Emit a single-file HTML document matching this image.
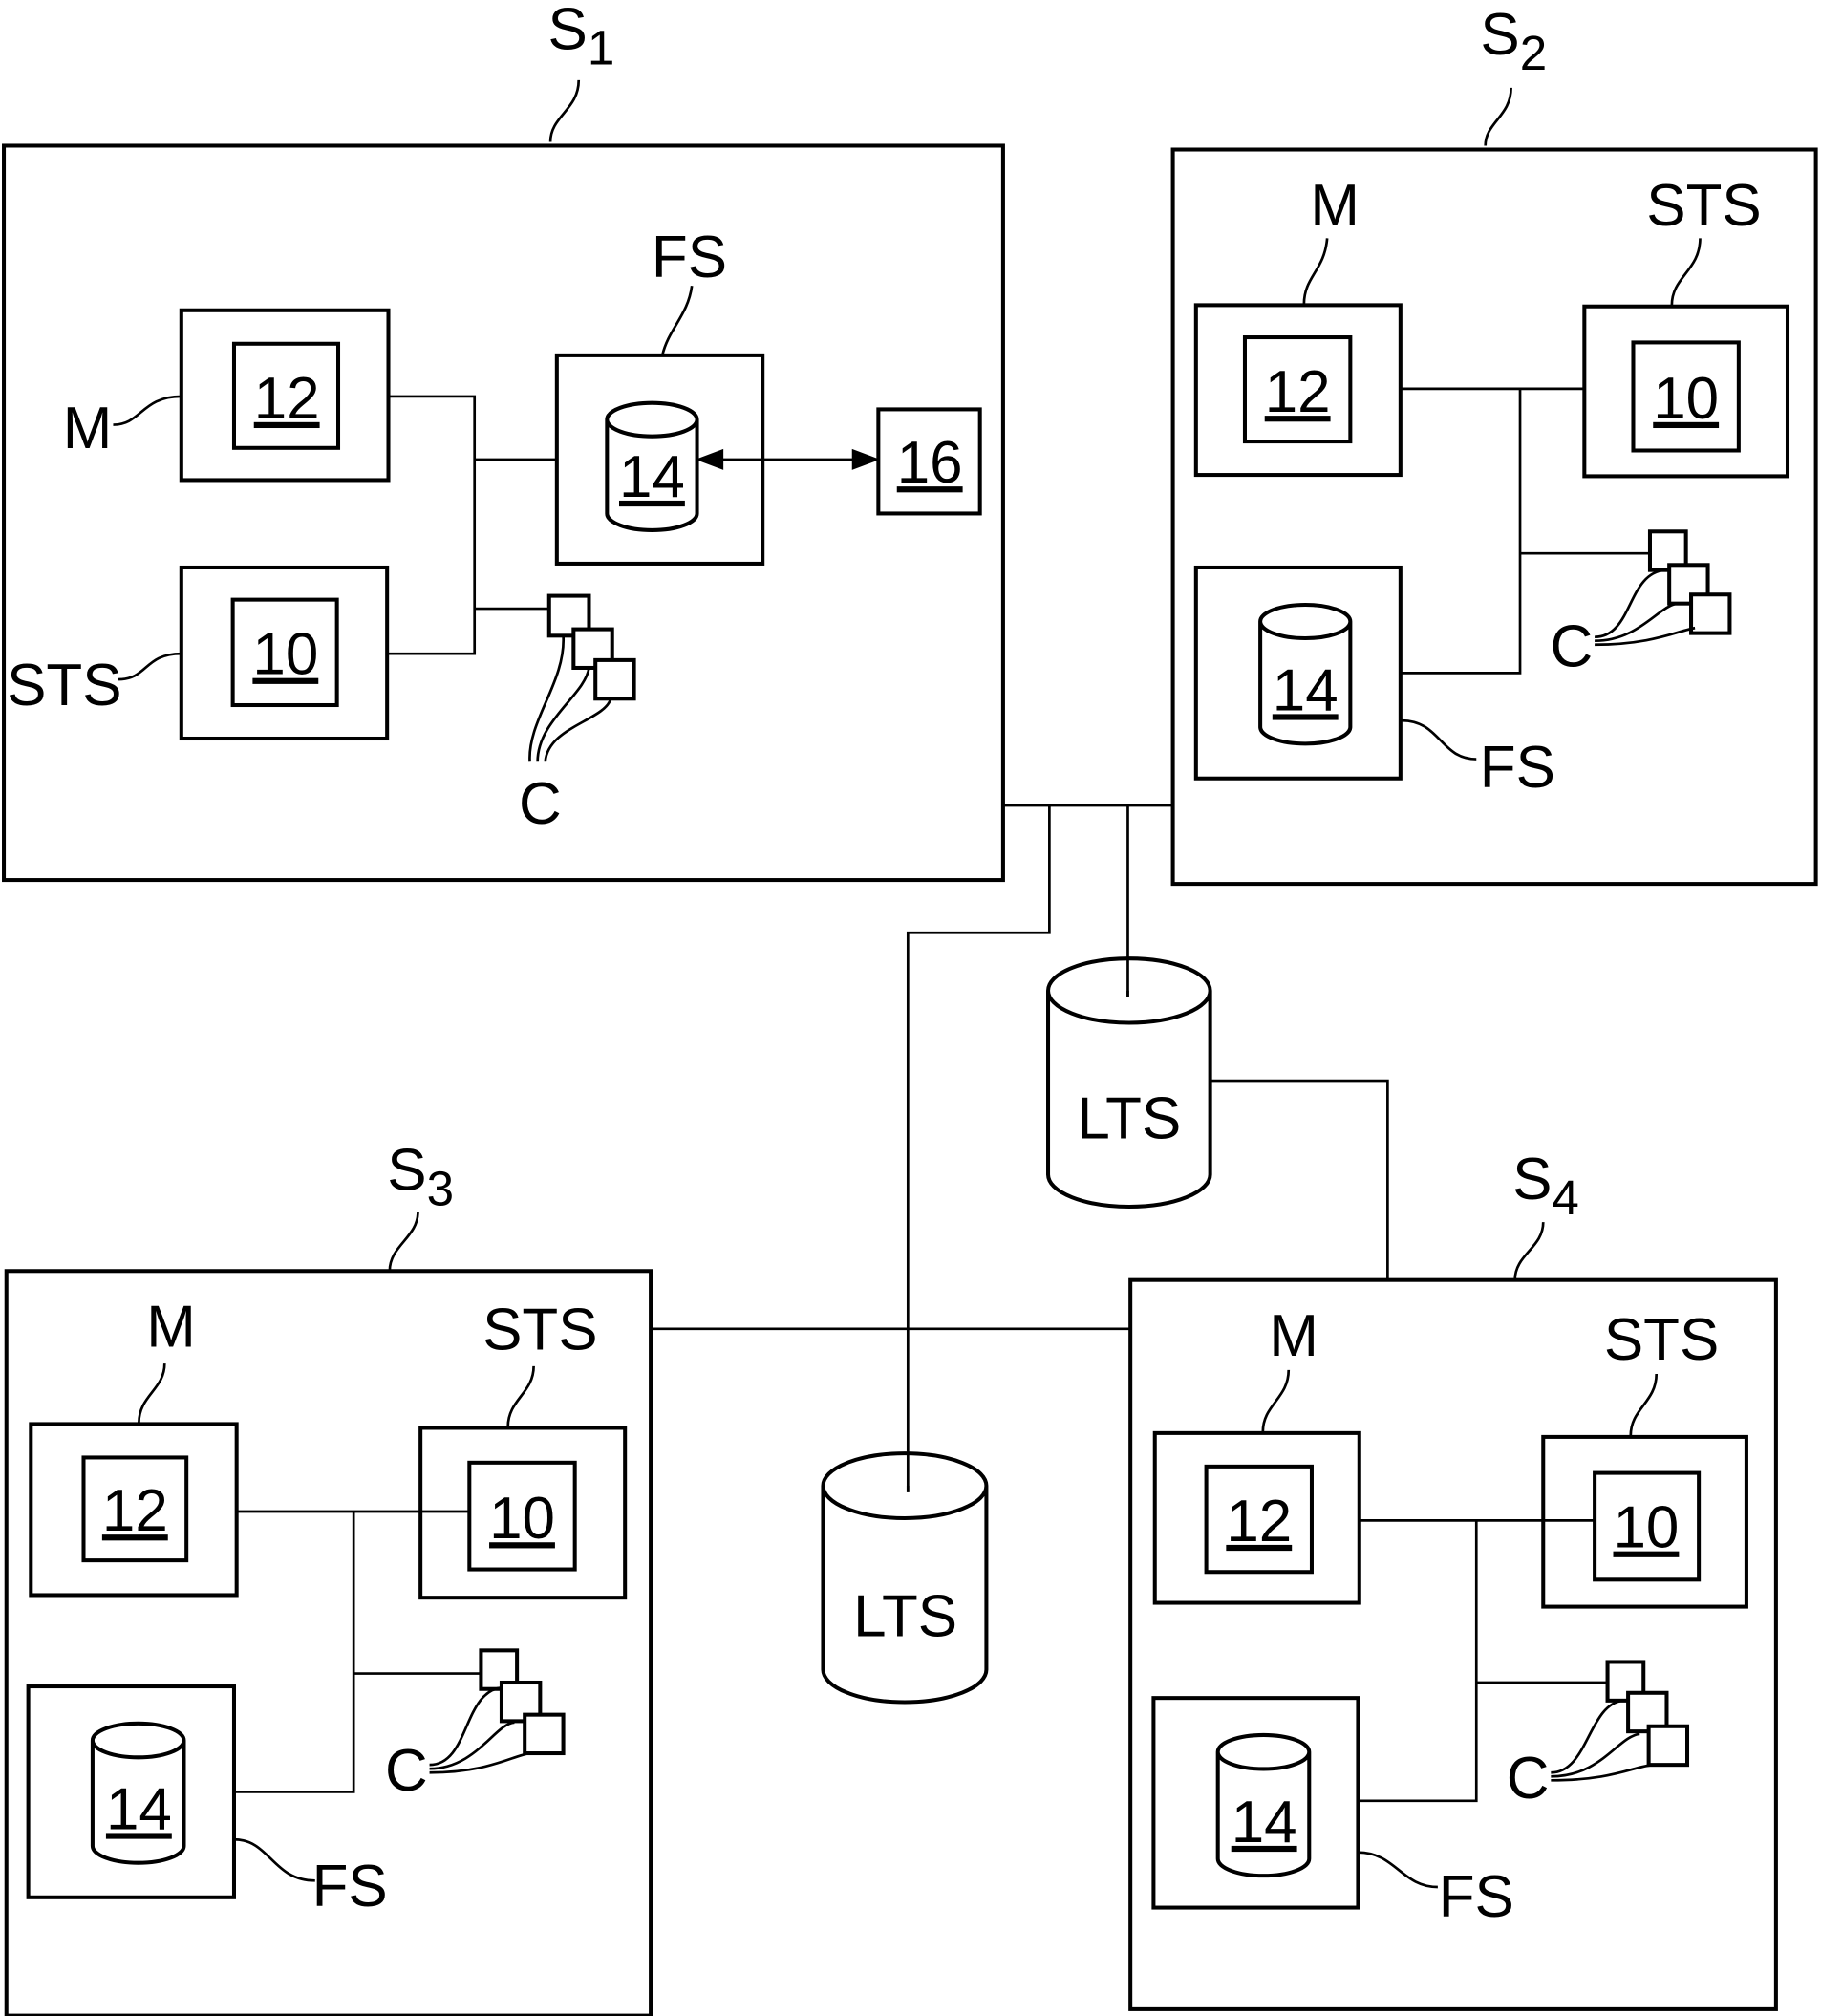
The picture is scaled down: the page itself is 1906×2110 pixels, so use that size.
<!DOCTYPE html>
<html><head><style>html,body{margin:0;padding:0;background:#fff}svg{display:block}</style></head>
<body>
<svg width="1906" height="2110" viewBox="0 0 1416 1567" xmlns="http://www.w3.org/2000/svg">
<defs>
<marker id="ah" markerWidth="10" markerHeight="8" refX="9" refY="4" orient="auto-start-reverse" markerUnits="userSpaceOnUse"><path d="M0,0 L18,4 L0,8 Z" fill="#000" transform="scale(0.55,1)"/></marker>
</defs>
<g fill="none" stroke="#000" stroke-width="3">
<!-- S1 -->
<rect x="3" y="113" width="777" height="571"/>
<rect x="141" y="241" width="161" height="132"/><rect x="182" y="267" width="81" height="81"/>
<rect x="141" y="441" width="160" height="133"/><rect x="181" y="466" width="81" height="82"/>
<rect x="433" y="276" width="160" height="162"/>
<rect x="683" y="318" width="79" height="81"/>
<path d="M472,326 A35,13 0 0 1 542,326 A35,13 0 0 1 472,326 M472,326 L472,399 A35,13 0 0 0 542,399 L542,326"/>
<path d="M302,308 H369 V508 H301 M369,357 H433 M369,473 H427" stroke-width="2"/>
<path d="M545,357 H680" stroke-width="2"/>
<path d="M545,357 l16,-6 v12 z M680,357 l-16,-6 v12 z" fill="#000"/>
<rect x="427" y="463" width="31" height="31" fill="#fff"/><rect x="446" y="489" width="30" height="30" fill="#fff"/><rect x="463" y="513" width="30" height="30" fill="#fff"/>
<path d="M412,592 C410,560 440,530 438,494 M418,592 C418,560 455,540 458,519 M424,592 C426,565 470,560 475,543" stroke-width="2"/>
<path d="M428,110 C428,90 450,85 450,62 M515,276 C520,255 535,245 538,222 M88,330 C110,330 110,308 141,308 M92,528 C115,528 112,508 141,508" stroke-width="2"/>
<!-- S2 -->
<rect x="912" y="116" width="500" height="571"/>
<rect x="930" y="237" width="159" height="132"/><rect x="968" y="262" width="82" height="81"/>
<rect x="1232" y="238" width="158" height="132"/><rect x="1270" y="266" width="82" height="84"/>
<rect x="930" y="441" width="159" height="164"/>
<path d="M980,483 A35,13 0 0 1 1050,483 A35,13 0 0 1 980,483 M980,483 L980,565 A35,13 0 0 0 1050,565 L1050,483"/>
<path d="M1089,302 H1232 M1182,302 V523 H1089 M1182,430 H1283" stroke-width="2"/>
<rect x="1283" y="413" width="28" height="30" fill="#fff"/><rect x="1298" y="439" width="30" height="30" fill="#fff"/><rect x="1315" y="462" width="30" height="30" fill="#fff"/>
<path d="M1240,495 C1270,495 1265,445 1295,443 M1240,498 C1275,498 1290,470 1305,469 M1240,501 C1285,501 1305,490 1318,488" stroke-width="2"/>
<path d="M1155,113 C1155,95 1175,90 1175,68 M1014,236 C1014,215 1030,210 1032,185 M1300,237 C1300,215 1322,210 1322,185 M1090,560 C1120,560 1120,590 1148,590" stroke-width="2"/>
<!-- network -->
<path d="M780,626 H912 M816,626 V725 H706 V1160 M877,626 V775 M941,840 H1079 V995 M506,1033 H880" stroke-width="2"/>
<path d="M815,770 A63,25 0 0 1 941,770 A63,25 0 0 1 815,770 M815,770 L815,913 A63,25 0 0 0 941,913 L941,770" fill="#fff"/>
<path d="M640,1155 A63,25 0 0 1 767,1155 A63,25 0 0 1 640,1155 M640,1155 L640,1298 A63,25 0 0 0 767,1298 L767,1155" fill="#fff"/>
<path d="M706,1130 V1160" stroke-width="2"/>
<path d="M877,745 V775" stroke-width="2"/>
<!-- S3 -->
<rect x="5" y="988" width="501" height="579"/>
<rect x="24" y="1107" width="160" height="133"/><rect x="65" y="1133" width="80" height="80"/>
<rect x="327" y="1110" width="159" height="132"/><rect x="365" y="1137" width="82" height="83"/>
<rect x="22" y="1311" width="160" height="164"/>
<path d="M72,1353 A35,13 0 0 1 143,1353 A35,13 0 0 1 72,1353 M72,1353 L72,1435 A35,13 0 0 0 143,1435 L143,1353"/>
<path d="M184,1175 H365 M275,1175 V1393 H182 M275,1301 H374" stroke-width="2"/>
<rect x="374" y="1283" width="28" height="30" fill="#fff"/><rect x="390" y="1308" width="30" height="30" fill="#fff"/><rect x="408" y="1333" width="30" height="30" fill="#fff"/>
<path d="M334,1372 C365,1372 360,1315 390,1312 M334,1375 C370,1375 385,1340 400,1339 M334,1378 C380,1378 398,1365 412,1363" stroke-width="2"/>
<path d="M303,988 C303,968 325,962 325,942 M108,1106 C108,1085 128,1080 128,1060 M395,1109 C395,1088 415,1083 415,1062 M182,1430 C210,1430 212,1462 245,1462" stroke-width="2"/>
<!-- S4 -->
<rect x="879" y="995" width="502" height="567"/>
<rect x="898" y="1114" width="159" height="132"/><rect x="938" y="1140" width="82" height="82"/>
<rect x="1200" y="1117" width="158" height="132"/><rect x="1240" y="1145" width="81" height="83"/>
<rect x="897" y="1320" width="159" height="163"/>
<path d="M947,1362 A35,13 0 0 1 1018,1362 A35,13 0 0 1 947,1362 M947,1362 L947,1445 A35,13 0 0 0 1018,1445 L1018,1362"/>
<path d="M1057,1182 H1240 M1148,1182 V1400 H1056 M1148,1308 H1250" stroke-width="2"/>
<rect x="1250" y="1292" width="28" height="30" fill="#fff"/><rect x="1266" y="1316" width="30" height="30" fill="#fff"/><rect x="1282" y="1342" width="30" height="30" fill="#fff"/>
<path d="M1206,1378 C1235,1378 1235,1325 1262,1322 M1206,1381 C1245,1381 1258,1350 1275,1348 M1206,1384 C1255,1384 1270,1373 1286,1372" stroke-width="2"/>
<path d="M1178,995 C1178,975 1200,970 1200,950 M982,1113 C982,1092 1002,1087 1002,1065 M1268,1116 C1268,1095 1288,1090 1288,1068 M1056,1440 C1085,1440 1090,1467 1118,1467" stroke-width="2"/>
</g>
<g font-family="'Liberation Sans Narrow','Liberation Sans',sans-serif" font-size="46" fill="#000" text-anchor="middle">
<text x="452" y="38">S<tspan font-size="38" dy="12">1</tspan></text>
<text x="1177" y="42">S<tspan font-size="38" dy="12">2</tspan></text>
<text x="327" y="925">S<tspan font-size="38" dy="12">3</tspan></text>
<text x="1202" y="932">S<tspan font-size="38" dy="12">4</tspan></text>
<text x="68" y="348">M</text><text x="50" y="548">STS</text><text x="536" y="215">FS</text><text x="420" y="640">C</text>
<text x="1038" y="175">M</text><text x="1325" y="175">STS</text><text x="1180" y="612">FS</text><text x="1222" y="518">C</text>
<text x="133" y="1047">M</text><text x="420" y="1049">STS</text><text x="272" y="1482">FS</text><text x="316" y="1392">C</text>
<text x="1006" y="1054">M</text><text x="1292" y="1057">STS</text><text x="1148" y="1490">FS</text><text x="1188" y="1398">C</text>
<text x="878" y="885">LTS</text><text x="704" y="1272">LTS</text>
<g text-decoration="underline">
<text x="223" y="325">12</text><text x="222" y="524">10</text><text x="507" y="386">14</text><text x="723" y="375">16</text>
<text x="1009" y="320">12</text><text x="1311" y="325">10</text><text x="1015" y="552">14</text>
<text x="105" y="1190">12</text><text x="406" y="1196">10</text><text x="108" y="1422">14</text>
<text x="979" y="1198">12</text><text x="1280" y="1203">10</text><text x="983" y="1432">14</text>
</g>
</g>
</svg>
</body></html>
